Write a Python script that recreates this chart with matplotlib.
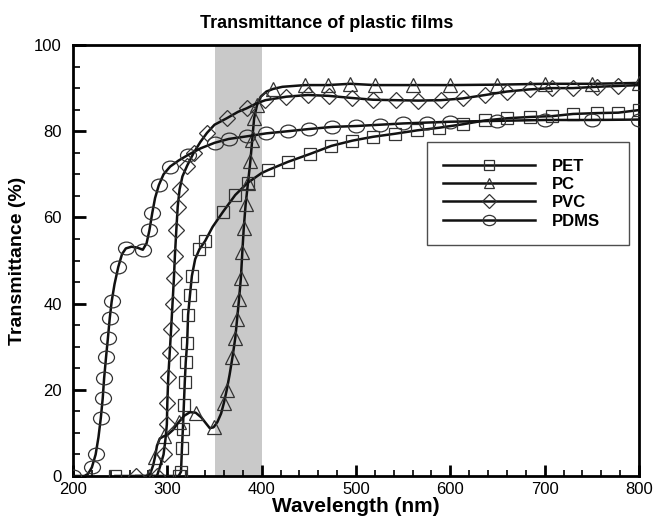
import numpy as np
import matplotlib
matplotlib.use("Agg")
import matplotlib.pyplot as plt
from matplotlib.path import Path
from matplotlib.transforms import Affine2D

plt.rcParams['font.family'] = ['Liberation Sans', 'DejaVu Sans']

# data (wavelength nm, transmittance %)
pet_x = [245, 312, 314.5, 315.5, 316.5, 317.5, 318.5, 319.5, 321, 322, 324, 326, 329.5, 334, 340, 348,
         359, 372, 385, 400, 407, 428, 451, 474, 496, 518, 541, 565, 588, 613, 637, 660, 684, 708, 730,
         755, 778, 800]
pet_y = [0, 0, 1, 6.5, 11, 16.4, 21.8, 26.4, 30.8, 37.4, 42, 46.4, 50.3, 52.6, 54.5, 57.8,
         61.3, 65.2, 68, 70.3, 71, 72.9, 74.7, 76.6, 77.8, 78.7, 79.4, 80.2, 80.8, 81.6, 82.5, 83, 83.3,
         83.5, 84, 84.2, 84.3, 84.9]

pc_x = [281, 285, 287, 289, 292, 296, 300, 306, 312, 318, 324, 330, 336, 341, 345, 349, 353, 357,
        360, 363, 366, 369, 372, 374, 376, 378, 379.5, 381, 383, 385.5, 388, 390, 392, 395, 399, 405,
        412, 422, 446, 470, 494, 520, 560, 600, 650, 700, 750, 800]
pc_y = [0, 2.5, 4.5, 7, 8.7, 9.2, 9.5, 10.7, 12.5, 14, 14.8, 14.7, 13.6, 12.2, 11.1, 11.3, 12.5, 14.5,
        17, 20, 23.5, 27.5, 32, 36.5, 41, 46, 52, 57.5, 63, 68, 73, 78, 83, 86, 88, 89.2,
        89.8, 90.3, 90.7, 90.7, 91, 90.7, 90.7, 90.7, 90.8, 91, 91, 91.2]

pvc_x = [267, 289, 292, 296, 298, 299.5, 300, 301, 302.5, 304, 305.5, 307, 308, 309.5, 311, 313, 316,
         321, 328, 335, 342, 350, 363, 375, 384, 395, 404, 426, 449, 471, 496, 518, 542, 566, 590,
         613, 637, 660, 684, 708, 730, 755, 778, 800]
pvc_y = [0, 0, 2, 5, 8.5, 12, 17, 23, 28.5, 34, 40, 46, 51, 57, 62.5, 66.5, 69.5,
         72, 75, 77.5, 79.6, 81.5, 83, 84.5, 85.3, 86.5, 87.2, 88, 88.4, 88.2, 87.7, 87.3, 87.2, 87.1,
         87.2, 87.6, 88.4, 89.2, 89.7, 90, 90, 90.3, 90.5, 90.7]

pdms_x = [200, 212, 216, 220, 224, 227, 229.5, 231.5, 233, 235, 237, 239, 241, 244, 248, 252, 256,
          262, 268, 274, 278, 281, 284, 287, 291, 296, 303, 312, 322, 335, 350, 365, 384, 405, 428,
          450, 475, 500, 525, 550, 575, 600, 650, 700, 750, 800]
pdms_y = [0, 0, 0.5, 2, 5, 9, 13.5, 18, 22.7, 27.5, 32, 36.7, 40.5, 44.5, 48.5, 51.5, 52.8,
          53.2, 53, 52.5, 54, 57, 61, 64.5, 67.5, 70, 71.8, 73.2, 74.5, 76, 77.3, 78.2, 78.8, 79.5, 80,
          80.5, 81, 81.2, 81.5, 81.8, 82, 82.2, 82.4, 82.6, 82.6, 82.7]

names = ['PET', 'PC', 'PVC', 'PDMS']

# wide ellipse for the PDMS symbol
ellipse = Path.unit_circle().transformed(Affine2D().scale(1.0, 0.8))

fig = plt.figure(figsize=(6.54, 5.17), dpi=100)
ax = fig.add_axes([73 / 654, 41 / 517, 566 / 654, 431 / 517])

ax.axvspan(350, 400, color='#c9c9c9', lw=0, zorder=0)

styles = [
    (pet_x, pet_y, 's', 8.5),
    (pc_x, pc_y, '^', 9.5),
    (pvc_x, pvc_y, 'D', 8.5),
    (pdms_x, pdms_y, ellipse, 11.5),
]
for (x, y, m, ms), name in zip(styles, names):
    ax.plot(x, y, color='#111111', lw=1.8, marker=m, ms=ms, mfc='none',
            mec='#333333', mew=0.9, markevery=0.031, label=name, zorder=3)

ax.set_xlim(200, 800)
ax.set_ylim(0, 100)
ax.set_xticks(np.arange(200, 801, 100))
ax.set_xticks(np.arange(200, 801, 20), minor=True)
ax.set_yticks([0, 20, 40, 60, 80, 100])
ax.set_yticks(np.arange(0, 101, 5), minor=True)

for s in ax.spines.values():
    s.set_linewidth(2)
ax.tick_params(which='both', direction='in', top=False, right=False, labelsize=12)
ax.tick_params(axis='y', which='major', length=9, width=2, pad=8)
ax.tick_params(axis='y', which='minor', length=5, width=1.2)
ax.tick_params(axis='x', which='major', length=8, width=2, pad=4)
ax.tick_params(axis='x', which='minor', length=4.5, width=1.2)

ax.set_xlabel('Wavelength (nm)', fontsize=15, fontweight='bold', labelpad=0)
ax.set_ylabel('Transmittance (%)', fontsize=14, fontweight='bold', labelpad=6)
fig.text(0.5, 0.955, 'Transmittance of plastic films', ha='center', va='center',
         fontsize=13, fontweight='bold')

leg = ax.legend(loc='upper left', bbox_to_anchor=(0.625, 0.517, 0.357, 0.258), mode='expand',
                borderaxespad=0, frameon=True, fancybox=False, edgecolor='#222222',
                prop={'weight': 'bold', 'size': 12}, handlelength=5.5, handletextpad=1.0,
                labelspacing=0.2, borderpad=1.0, markerscale=0.8)
leg.get_frame().set_linewidth(1.0)

fig.savefig('out.png', dpi=100)
